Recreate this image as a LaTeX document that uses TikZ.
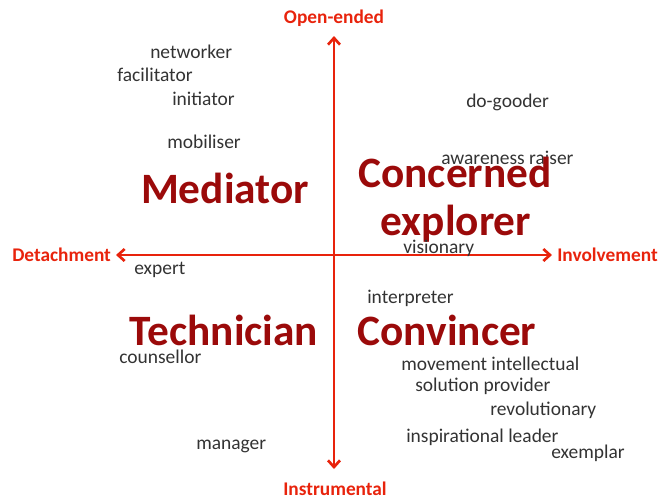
\documentclass[tikz,border=0pt]{standalone}
\usepackage{fontspec}
\setmainfont{Carlito}
\usetikzlibrary{arrows.meta}
\definecolor{axisred}{HTML}{E8230C}
\definecolor{bigred}{HTML}{9B0A0A}
\definecolor{wordgray}{HTML}{333333}
\tikzset{
  axislabel/.style={text=axisred, font=\fontsize{14.5}{17}\selectfont\bfseries, inner sep=0pt},
  bigword/.style={text=bigred, font=\fontsize{32.5}{36}\selectfont\bfseries, inner sep=0pt},
  roleword/.style={text=wordgray, font=\fontsize{14.6}{17}\selectfont, inner sep=0pt, anchor=west},
  axisline/.style={draw=axisred, line width=2.2pt, {Straight Barb[length=5pt,width=9pt,line width=2pt]}-{Straight Barb[length=5pt,width=9pt,line width=2pt]}}
}
\begin{document}
\begin{tikzpicture}[x=0.75pt,y=-0.75pt]
\useasboundingbox (0,0) rectangle (669,500);
% axes
\coordinate (top) at (334,36);
\coordinate (bot) at (334,469);
\coordinate (lft) at (116,255);
\coordinate (rgt) at (552,255);
\draw[axisline] (bot) -- (top);
\draw[axisline] (lft) -- (rgt);
% axis labels
\node[axislabel] (open) at (334,18) {Open-ended};
\node[axislabel] (instr) at (335,489) {Instrumental};
\node[axislabel, anchor=west] (detach) at (12,255) {Detachment};
\node[axislabel, anchor=west] (involve) at (557,255) {Involvement};
% role words
\node[roleword] (networker) at (150,52) {networker};
\node[roleword] (facilitator) at (117,75) {facilitator};
\node[roleword] (initiator) at (172,99) {initiator};
\node[roleword] (mobiliser) at (167,142) {mobiliser};
\node[roleword] (dogooder) at (466,102) {do-gooder};
\node[roleword] (awareness) at (441,158) {awareness raiser};
\node[roleword] (expert) at (134,270) {expert};
\node[roleword] (interpreter) at (367,298) {interpreter};
\node[roleword] (counsellor) at (119,357) {counsellor};
\node[roleword] (movement) at (401,364) {movement intellectual};
\node[roleword] (solution) at (415,386) {solution provider};
\node[roleword] (revolutionary) at (490,410) {revolutionary};
\node[roleword] (inspirational) at (406,437) {inspirational leader};
\node[roleword] (exemplar) at (551,453) {exemplar};
\node[roleword] (manager) at (196,446) {manager};
% big words
\node[bigword] (mediator) at (225,188) {Mediator};
\node[bigword] (concerned) at (455,172) {Concerned};
\node[bigword] (explorer) at (456,224) {explorer};
\node[bigword] (technician) at (224,330) {Technician};
\node[bigword] (convincer) at (447,330) {Convincer};
\node[roleword] (visionary) at (403,248) {visionary};
\end{tikzpicture}
\end{document}
